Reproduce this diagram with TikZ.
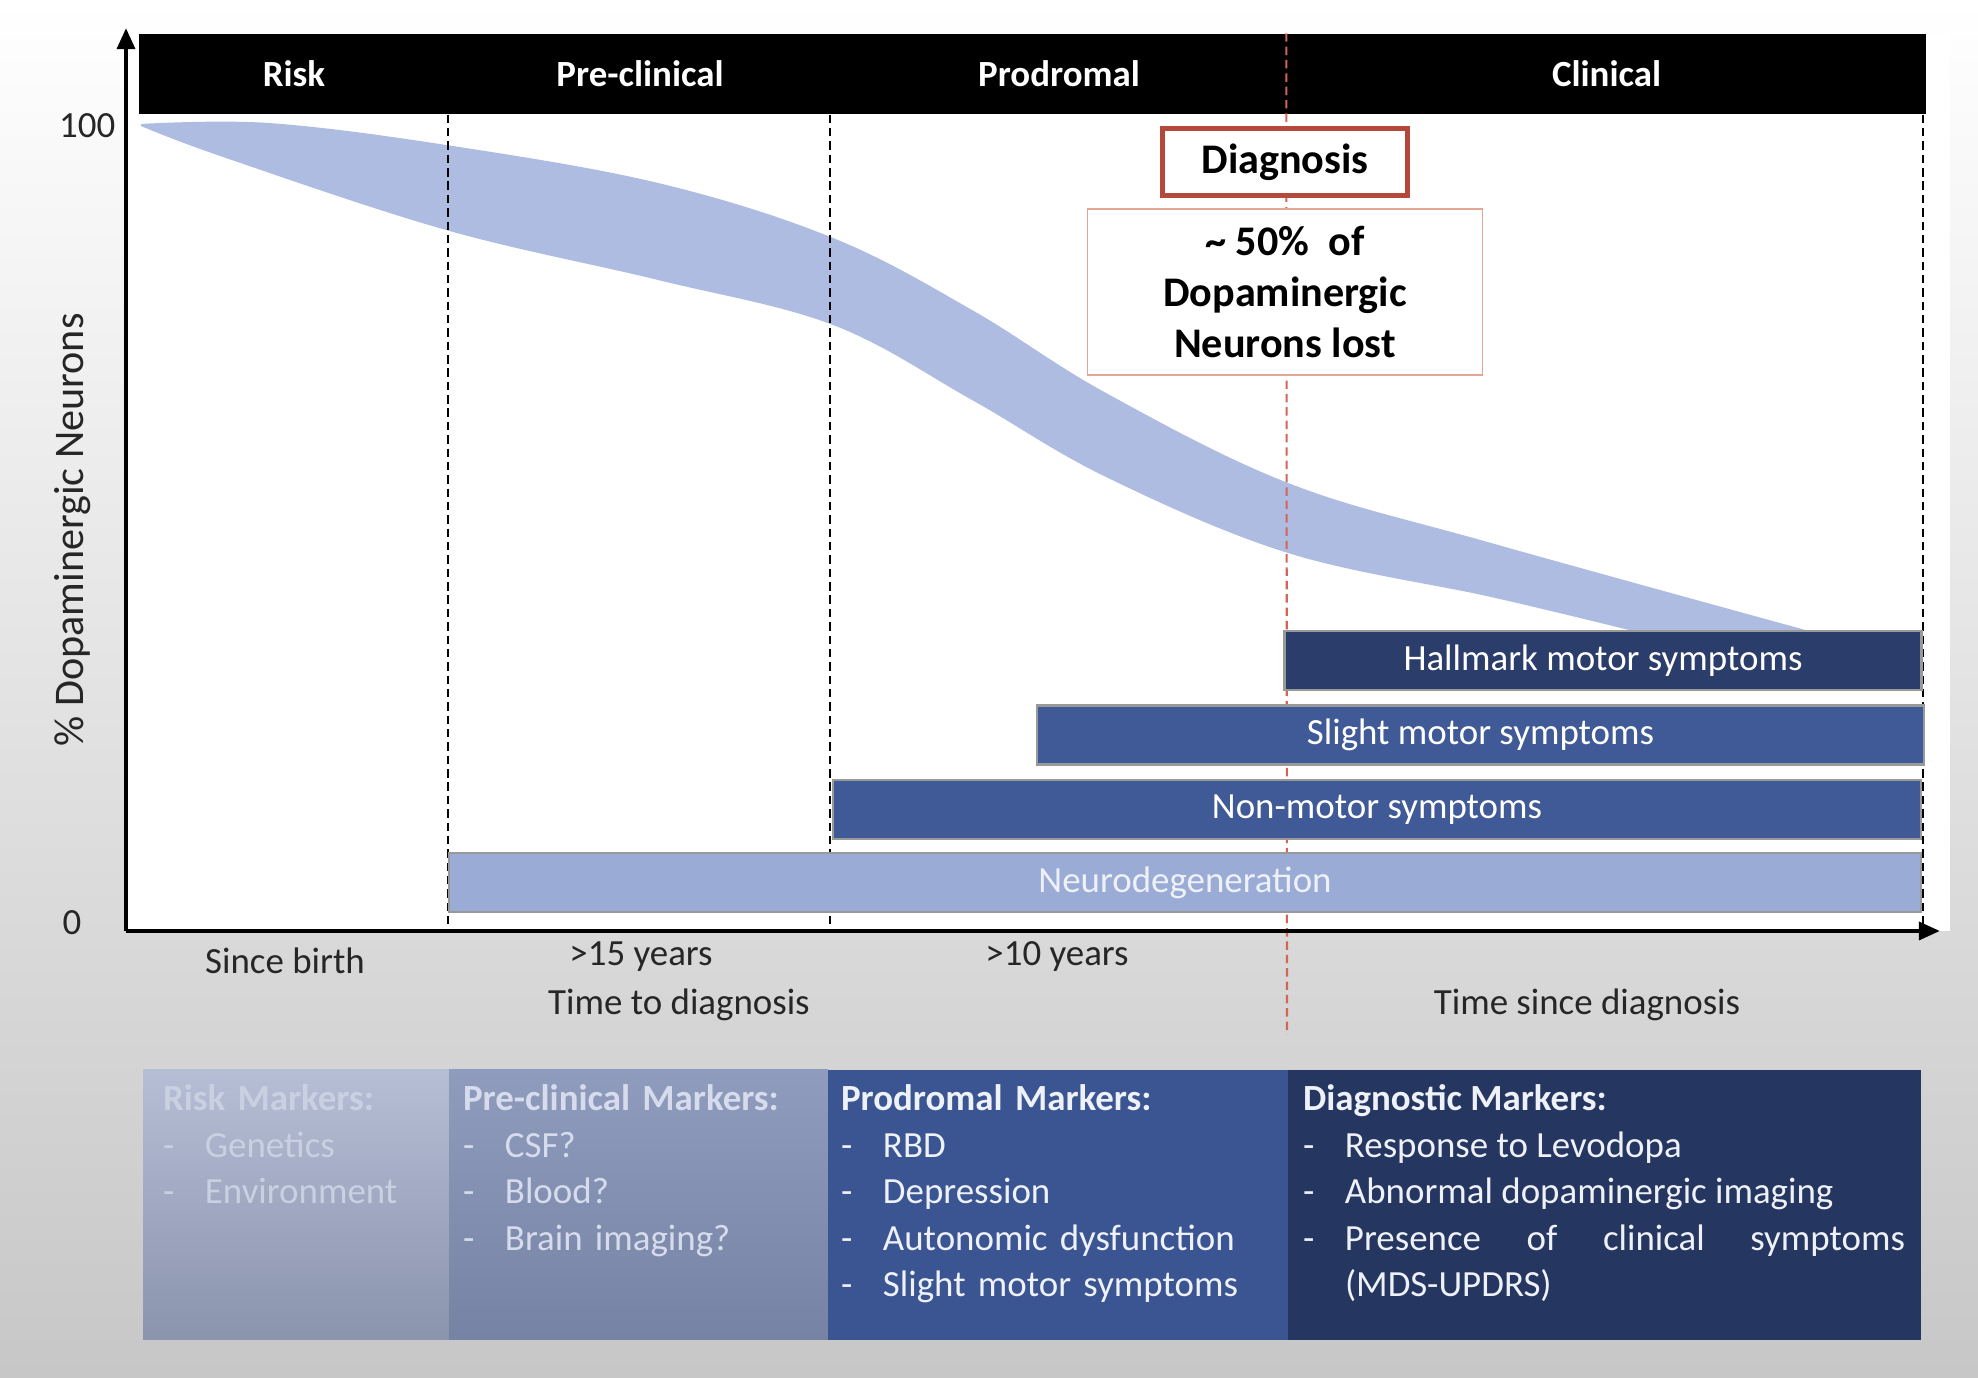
\documentclass[tikz,border=0pt]{standalone}
\usepackage{fontspec}
\setmainfont{Carlito}
\usetikzlibrary{arrows.meta,positioning,calc}

\definecolor{bandblue}{RGB}{173,188,224}
\definecolor{neuroblue}{RGB}{154,171,213}
\definecolor{midblue}{RGB}{63,90,150}
\definecolor{navyblue}{RGB}{43,61,107}
\definecolor{diagred}{RGB}{180,72,58}
\definecolor{lightred}{RGB}{228,165,150}
\definecolor{dashred}{RGB}{212,100,84}
\definecolor{riskbg}{RGB}{163,174,203}
\definecolor{prebg}{RGB}{131,145,182}
\definecolor{prodbg}{RGB}{59,85,146}
\definecolor{diagbg}{RGB}{37,54,96}
\definecolor{risktext}{RGB}{200,208,226}
\definecolor{pretext}{RGB}{214,220,235}
\definecolor{paletext}{RGB}{238,241,248}

\newcommand{\mitem}[1]{\par\hangindent=0.42cm\hangafter=1\noindent\makebox[0.42cm][l]{-}#1\par}

\begin{document}
\begin{tikzpicture}[
    phase/.style={fill=black, text=white, minimum height=0.8cm, inner sep=0pt, font=\bfseries\fontsize{10.5}{12}\selectfont},
    symbar/.style={draw=black!40, line width=0.7pt, minimum height=0.59cm, inner sep=0pt, text=white, font=\fontsize{10.5}{12}\selectfont},
    lbl/.style={font=\fontsize{10.5}{12}\selectfont, text=black!85},
    panel/.style={minimum height=2.7cm, inner sep=0pt},
    mtext/.style={inner sep=0pt, text width=#1, align=left, font=\fontsize{10.5}{13.2}\selectfont},
    vline/.style={line width=0.6pt, dash pattern=on 2.4pt off 1.4pt},
    arr/.style={-{Triangle[length=6pt,width=5pt]}, line width=1.3pt}
]
\useasboundingbox (0,0) rectangle (19.78,13.78);
\shade[top color=white, middle color=white, bottom color=black!22] (0,0) rectangle (19.78,13.78);
\fill[white] (1.26,4.47) rectangle (19.5,13.44);

\fill[bandblue] plot[smooth, tension=0.6] coordinates {(1.41,12.54) (2.68,12.55) (4.46,12.33) (6.58,11.95) (8.33,11.40) (9.72,10.68) (11.06,9.85) (12.88,8.95) (14.91,8.35) (18.09,7.47)}
  -- plot[smooth, tension=0.6] coordinates {(16.33,7.47) (14.91,7.81) (12.88,8.25) (11.06,9.01) (9.72,9.78) (8.33,10.53) (6.58,10.98) (4.46,11.48) (2.23,12.21) (1.41,12.52)} -- cycle;

\coordinate (orig) at (1.26,4.47);
\coordinate (ytop) at (1.26,13.50);
\coordinate (xend) at (19.40,4.47);
\coordinate (dgend) at (12.87,3.43);

\node[phase, minimum width=3.10cm] (risk) at (2.94,13.04) {Risk};
\node[phase, minimum width=3.82cm] (pre) at (6.40,13.04) {Pre-clinical};
\node[phase, minimum width=4.56cm] (prod) at (10.59,13.04) {Prodromal};
\node[phase, minimum width=6.39cm] (clin) at (16.065,13.04) {Clinical};

\draw[vline] (pre.south west) -- (pre.south west |- orig);
\draw[vline] (prod.south west) -- (prod.south west |- orig);
\draw[vline] (clin.south east) ++(-0.04,0) -- ($(clin.south east |- orig)+(-0.04,0)$);
\draw[vline, dashred] (clin.north west) -- (dgend);

\node[draw=diagred, line width=1.2pt, fill=white, minimum width=2.45cm, minimum height=0.67cm, font=\bfseries\fontsize{12}{14}\selectfont] (diag) at (12.85,12.16) {Diagnosis};
\node[draw=lightred, line width=0.5pt, fill=white, minimum width=3.95cm, minimum height=1.66cm, align=center, font=\bfseries\fontsize{12}{14.4}\selectfont] (lost) at (12.85,10.86) {{\textasciitilde} 50\%\ \ of\\Dopaminergic\\Neurons lost};

\node[symbar, fill=navyblue, minimum width=6.37cm] (hall) at (16.03,7.175) {Hallmark motor symptoms};
\node[symbar, fill=midblue, minimum width=8.87cm] (slight) at (14.805,6.43) {Slight motor symptoms};
\node[symbar, fill=midblue, minimum width=10.88cm] (nonmotor) at (13.77,5.685) {Non-motor symptoms};
\node[symbar, fill=neuroblue, minimum width=14.72cm, text=paletext] (neuro) at (11.85,4.955) {Neurodegeneration};

\draw[arr] (orig) -- (ytop);
\draw[arr] (orig) -- (xend);

\node[lbl, anchor=east, inner sep=0pt] (hundred) at (1.16,12.52) {100};
\node[lbl] (zero) at (0.72,4.55) {0};
\node[lbl, rotate=90, font=\fontsize{12}{14}\selectfont] (ylab) at (0.73,8.48) {\% Dopaminergic Neurons};
\node[lbl] (birth) at (2.85,4.17) {Since birth};
\node[lbl] (fifteen) at (6.41,4.21) {>15 years};
\node[lbl] (ten) at (10.57,4.21) {>10 years};
\node[lbl] (todiag) at (6.79,3.73) {Time to diagnosis};
\node[lbl] (sincediag) at (15.87,3.73) {Time since diagnosis};

\node[panel, top color=riskbg!80!white, bottom color=riskbg!85!black, minimum width=3.06cm] (riskp) at (2.96,1.73) {};
\node[panel, top color=prebg!90!white, bottom color=prebg!90!black, minimum width=3.79cm] (prep) at (6.385,1.73) {};
\node[panel, fill=prodbg, minimum width=4.60cm] (prodp) at (10.58,1.73) {};
\node[panel, fill=diagbg, minimum width=6.33cm] (diagp) at (16.045,1.73) {};

\node[mtext=2.8cm, text=risktext, below right=0.15cm and 0.2cm of riskp.north west] (riskm) {\textbf{Risk Markers:}\mitem{Genetics}\mitem{Environment}};
\node[mtext=3.6cm, text=pretext, below right=0.15cm and 0.14cm of prep.north west] (prem) {\textbf{Pre-clinical Markers:}\mitem{CSF?}\mitem{Blood?}\mitem{Brain imaging?}};
\node[mtext=4.4cm, text=paletext, below right=0.15cm and 0.13cm of prodp.north west] (prodm) {\textbf{Prodromal Markers:}\mitem{RBD}\mitem{Depression}\mitem{Autonomic dysfunction}\mitem{Slight motor symptoms}};
\node[mtext=6.02cm, text=paletext, align=justify, below right=0.15cm and 0.15cm of diagp.north west] (diagm) {\textbf{Diagnostic Markers:}\mitem{Response to Levodopa}\mitem{Abnormal dopaminergic imaging}\mitem{Presence of clinical symptoms\linebreak (MDS-UPDRS)}};
\end{tikzpicture}
\end{document}
